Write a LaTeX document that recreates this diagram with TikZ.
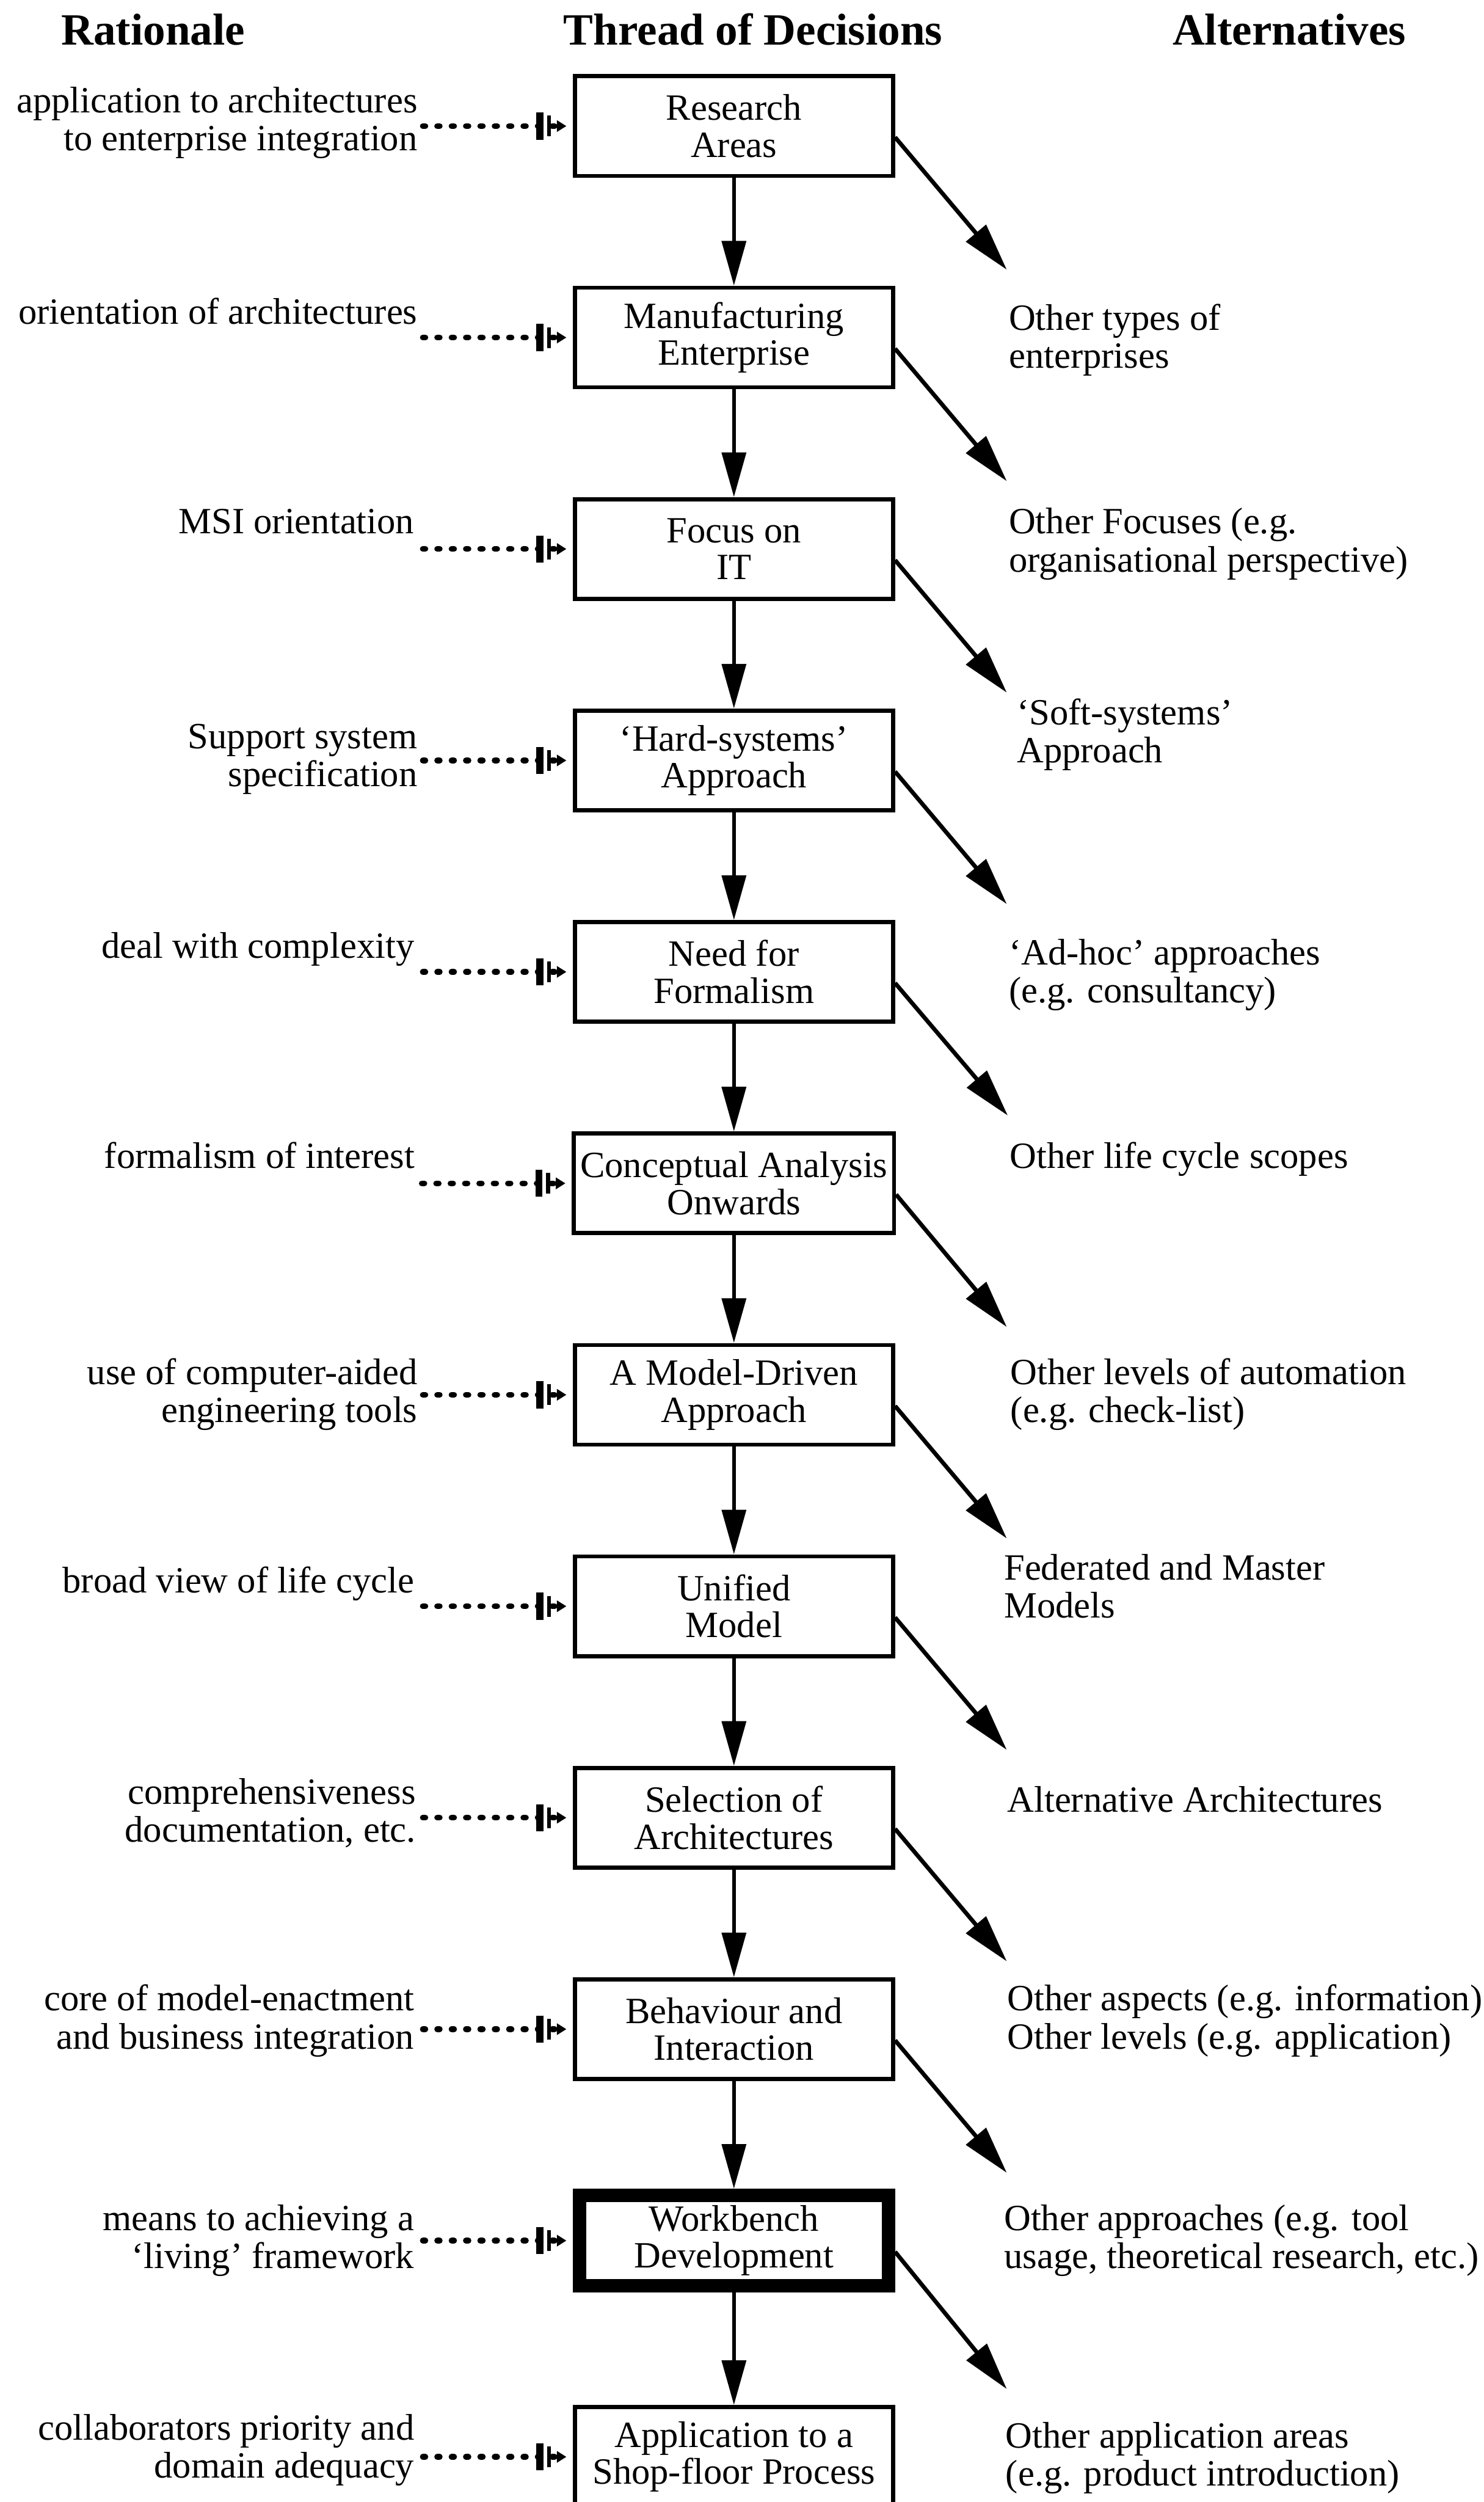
\documentclass[tikz,border=0pt]{standalone}
\usepackage{fontspec}
\setmainfont{Liberation Serif}
\usetikzlibrary{arrows.meta,positioning}
\tikzset{
  decision/.style={draw, line width=1.3pt, align=center, minimum width=99.7pt, minimum height=31.2pt, inner sep=2pt, font=\fontsize{11.6}{11.6}\selectfont},
  keydecision/.style={decision, line width=4.2pt, minimum width=96.8pt, minimum height=28.3pt},
  rationale/.style={anchor=base east, align=right, inner sep=0pt, font=\fontsize{11.6}{11.9}\selectfont},
  altnote/.style={anchor=base west, align=left, inner sep=0pt, font=\fontsize{11.6}{11.9}\selectfont},
  colhead/.style={anchor=base, inner sep=0pt, font=\fontsize{14}{16}\selectfont\bfseries},
  threadarrow/.style={-{Triangle[length=14pt,width=7.5pt]}, line width=1.2pt},
  altarrow/.style={-{Triangle[length=15pt,width=8pt]}, line width=1.3pt},
  whyline/.style={dash pattern=on 0.8pt off 3.7pt, line cap=round, line width=1.8pt, shorten >=2pt,
    -{Bar[width=8.5pt,line width=2.2pt,sep=1.2pt]Bar[width=6.5pt,line width=1.2pt,sep=1.8pt]Triangle[length=3pt,width=3.5pt]}}
}

\begin{document}
\begin{tikzpicture}[node distance=33.75pt]
\useasboundingbox (0,0) rectangle (465pt,-783.9pt);
\node[colhead] (hrat) at (48pt,-14pt) {Rationale};
\node[colhead] (hthr) at (236pt,-14pt) {Thread of Decisions};
\node[colhead] (halt) at (404pt,-14pt) {Alternatives};

\node[decision] (d1) at (230pt,-39.5pt) {Research\\Areas};
\node[decision, below=of d1] (d2) {Manufacturing\\Enterprise};
\node[decision, below=of d2] (d3) {Focus on\\IT};
\node[decision, below=of d3] (d4) {‘Hard-systems’\\Approach};
\node[decision, below=of d4] (d5) {Need for\\Formalism};
\node[decision, below=of d5] (d6) {Conceptual Analysis\\Onwards};
\node[decision, below=of d6] (d7) {A Model-Driven\\Approach};
\node[decision, below=of d7] (d8) {Unified\\Model};
\node[decision, below=of d8] (d9) {Selection of\\Architectures};
\node[decision, below=of d9] (d10) {Behaviour and\\Interaction};
\node[keydecision, below=of d10] (d11) {Workbench\\Development};
\node[decision, below=35.25pt of d11] (d12) {Application to a\\Shop-floor Process};

\node[rationale] (r1) at ([xshift=-48.5pt,yshift=-23.9pt]d1.north west) {application to architectures\\to enterprise integration};
\node[rationale] (r2) at ([xshift=-48.5pt,yshift=-12pt]d2.north west) {orientation of architectures};
\node[rationale] (r3) at ([xshift=-49.5pt,yshift=-11.5pt]d3.north west) {MSI orientation};
\node[rationale] (r4) at ([xshift=-48.5pt,yshift=-24.4pt]d4.north west) {Support system\\specification};
\node[rationale] (r5) at ([xshift=-49.5pt,yshift=-12pt]d5.north west) {deal with complexity};
\node[rationale] (r6) at ([xshift=-49pt,yshift=-11.5pt]d6.north west) {formalism of interest};
\node[rationale] (r7) at ([xshift=-48.5pt,yshift=-24.9pt]d7.north west) {use of computer-aided\\engineering tools};
\node[rationale] (r8) at ([xshift=-49.5pt,yshift=-12pt]d8.north west) {broad view of life cycle};
\node[rationale] (r9) at ([xshift=-49pt,yshift=-23.9pt]d9.north west) {comprehensiveness\\documentation, etc.};
\node[rationale] (r10) at ([xshift=-49.5pt,yshift=-22.4pt]d10.north west) {core of model-enactment\\and business integration};
\node[rationale] (r11) at ([xshift=-49.5pt,yshift=-24.9pt]d11.north west) {means to achieving a\\‘living’ framework};
\node[rationale] (r12) at ([xshift=-49.5pt,yshift=-22.9pt]d12.north west) {collaborators priority and\\domain adequacy};

\coordinate (w1) at ([xshift=-47pt]d1.west);
\coordinate (w2) at ([xshift=-47pt]d2.west);
\coordinate (w3) at ([xshift=-47pt]d3.west);
\coordinate (w4) at ([xshift=-47pt]d4.west);
\coordinate (w5) at ([xshift=-47pt]d5.west);
\coordinate (w6) at ([xshift=-47pt]d6.west);
\coordinate (w7) at ([xshift=-47pt]d7.west);
\coordinate (w8) at ([xshift=-47pt]d8.west);
\coordinate (w9) at ([xshift=-47pt]d9.west);
\coordinate (w10) at ([xshift=-47pt]d10.west);
\coordinate (w11) at ([xshift=-47pt]d11.west);
\coordinate (w12) at ([xshift=-47pt]d12.west);

\node[altnote] (a2) at ([xshift=35.5pt,yshift=-25.9pt]d2.north east) {Other types of\\enterprises};
\node[altnote] (a3) at ([xshift=35.5pt,yshift=-23.4pt]d3.north east) {Other Focuses (e.g.\\organisational perspective)};
\node[altnote] (a4) at ([xshift=38pt,yshift=-16.9pt]d4.north east) {‘Soft-systems’\\Approach};
\node[altnote] (a5) at ([xshift=35.5pt,yshift=-25.9pt]d5.north east) {‘Ad-hoc’ approaches\\(e.g. consultancy)};
\node[altnote] (a6) at ([xshift=35.5pt,yshift=-11.5pt]d6.north east) {Other life cycle scopes};
\node[altnote] (a7) at ([xshift=36pt,yshift=-24.9pt]d7.north east) {Other levels of automation\\(e.g. check-list)};
\node[altnote] (a8) at ([xshift=34pt,yshift=-19.9pt]d8.north east) {Federated and Master\\Models};
\node[altnote] (a9) at ([xshift=35pt,yshift=-14.5pt]d9.north east) {Alternative Architectures};
\node[altnote] (a10) at ([xshift=35pt,yshift=-22.4pt]d10.north east) {Other aspects (e.g. information)\\Other levels (e.g. application)};
\node[altnote] (a11) at ([xshift=34pt,yshift=-24.9pt]d11.north east) {Other approaches (e.g. tool\\usage, theoretical research, etc.)};
\node[altnote] (a12) at ([xshift=34.5pt,yshift=-25.4pt]d12.north east) {Other application areas\\(e.g. product introduction)};

\draw[threadarrow] (d1) -- (d2);
\draw[threadarrow] (d2) -- (d3);
\draw[threadarrow] (d3) -- (d4);
\draw[threadarrow] (d4) -- (d5);
\draw[threadarrow] (d5) -- (d6);
\draw[threadarrow] (d6) -- (d7);
\draw[threadarrow] (d7) -- (d8);
\draw[threadarrow] (d8) -- (d9);
\draw[threadarrow] (d9) -- (d10);
\draw[threadarrow] (d10) -- (d11);
\draw[threadarrow] (d11) -- (d12);

\draw[altarrow] ([yshift=-3.5pt]d1.east) -- ([xshift=35pt,yshift=5pt]d2.north east);
\draw[altarrow] ([yshift=-3.5pt]d2.east) -- ([xshift=35pt,yshift=5pt]d3.north east);
\draw[altarrow] ([yshift=-3.5pt]d3.east) -- ([xshift=35pt,yshift=5pt]d4.north east);
\draw[altarrow] ([yshift=-3.5pt]d4.east) -- ([xshift=35pt,yshift=5pt]d5.north east);
\draw[altarrow] ([yshift=-3.5pt]d5.east) -- ([xshift=35pt,yshift=5pt]d6.north east);
\draw[altarrow] ([yshift=-3.5pt]d6.east) -- ([xshift=35pt,yshift=5pt]d7.north east);
\draw[altarrow] ([yshift=-3.5pt]d7.east) -- ([xshift=35pt,yshift=5pt]d8.north east);
\draw[altarrow] ([yshift=-3.5pt]d8.east) -- ([xshift=35pt,yshift=5pt]d9.north east);
\draw[altarrow] ([yshift=-3.5pt]d9.east) -- ([xshift=35pt,yshift=5pt]d10.north east);
\draw[altarrow] ([yshift=-3.5pt]d10.east) -- ([xshift=35pt,yshift=5pt]d11.north east);
\draw[altarrow] ([yshift=-3.5pt]d11.east) -- ([xshift=35pt,yshift=5pt]d12.north east);

\draw[whyline] (w1) -- (d1);
\draw[whyline] (w2) -- (d2);
\draw[whyline] (w3) -- (d3);
\draw[whyline] (w4) -- (d4);
\draw[whyline] (w5) -- (d5);
\draw[whyline] (w6) -- (d6);
\draw[whyline] (w7) -- (d7);
\draw[whyline] (w8) -- (d8);
\draw[whyline] (w9) -- (d9);
\draw[whyline] (w10) -- (d10);
\draw[whyline] (w11) -- (d11);
\draw[whyline] (w12) -- (d12);
\end{tikzpicture}
\end{document}
